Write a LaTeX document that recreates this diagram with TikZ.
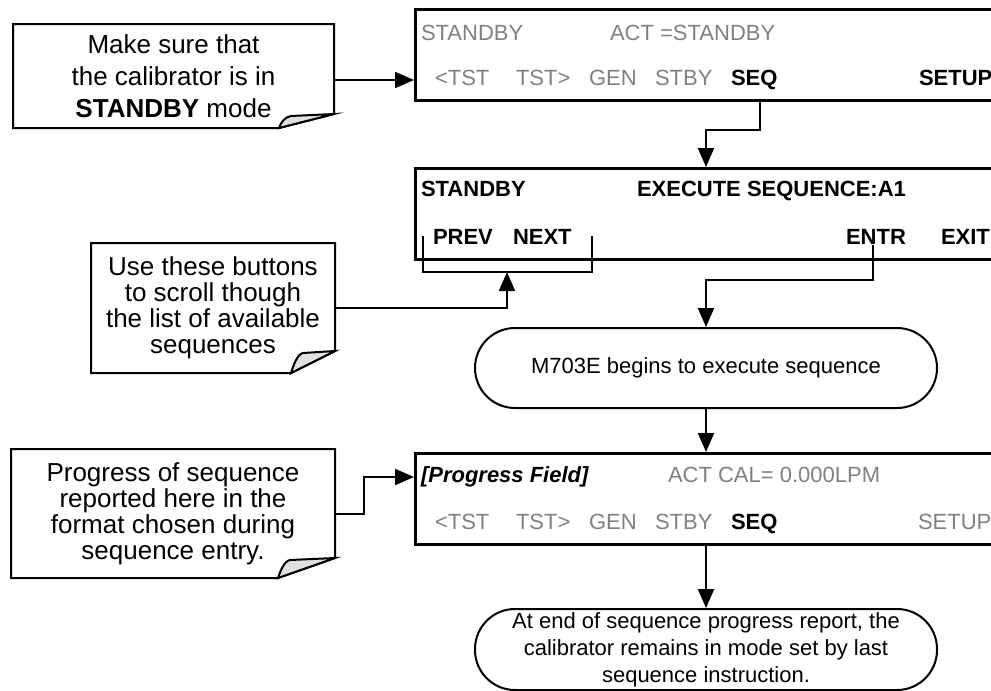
\documentclass[tikz,border=0pt]{standalone}
\usepackage{fontspec}
\setmainfont{Liberation Sans}
\usetikzlibrary{calc}
\usetikzlibrary{positioning,arrows.meta}

\definecolor{lcdgray}{RGB}{128,128,128}
\definecolor{flapgray}{RGB}{224,224,224}
\newcommand{\lcdfont}{\fontsize{11}{13.5}\selectfont}
\newcommand{\notefont}{\fontsize{13}{13}\selectfont}

% note outline with a folded corner: node, fold width, fold height
\newcommand{\dogear}[3]{%
  \draw[notebox] (#1.north west) -- (#1.north east) -- ([yshift=#3]#1.south east) -- ([xshift=-#2]#1.south east) -- (#1.south west) -- cycle;
  \filldraw[notebox,fill=flapgray] ([xshift=-#2]#1.south east) .. controls +(1pt,3pt) and +(-3pt,-0.5pt) .. ([xshift=6pt-#2,yshift=#3-1pt]#1.south east) -- ([yshift=#3]#1.south east) -- cycle;
}

\begin{document}
\begin{tikzpicture}[x=0.5pt,y=-0.5pt,>={Triangle[length=9.5pt,width=8pt]},line width=1pt,
  screen/.style={draw,rectangle,anchor=north west,inner sep=0pt,line width=1.3pt,minimum width=300pt,minimum height=45.5pt},
  key/.style={anchor=base west,inner sep=0pt,font=\lcdfont,text=lcdgray},
  hot/.style={key,text=black,font=\lcdfont\bfseries},
  note/.style={rectangle,draw=none,inner sep=0pt,align=center,font=\notefont},
  notebox/.style={line width=1pt,line join=miter},
  term/.style={draw,rectangle,rounded corners=20pt,inner sep=0pt,align=center,font=\lcdfont,minimum width=231pt,minimum height=40pt},
  ]
	\useasboundingbox (0,0) rectangle (991,691);

	\node[screen] (scrA) at (414,8) {};
	\node[screen] (scrB) at (414,167) {};
	\node[screen] (scrC) at (414,452) {};

	\node[key] (stbyA) at (420,40) {STANDBY};
	\node[key] (actA) at (609,40) {ACT =STANDBY};
	\node[key] (tstlA) at (434,85) {<TST};
	\node[key] (tstrA) at (515,85) {TST>};
	\node[key] (genA) at (588,85) {GEN};
	\node[key] (sbyA) at (654,85) {STBY};
	\node[hot] (seqA) at (730,85) {SEQ};
	\node[hot] (setA) at (918,85) {SETUP};

	\node[hot] (stbyB) at (420,196) {STANDBY};
	\node[hot] (execB) at (636,196) {EXECUTE SEQUENCE:A1};
	\node[hot] (prevB) at (432,244) {PREV};
	\node[hot] (nextB) at (512,244) {NEXT};
	\node[hot] (entrB) at (845,244) {ENTR};
	\node[hot] (exitB) at (940,244) {EXIT};

	\node[hot,font=\lcdfont\bfseries\itshape] (pfC) at (420,482) {[Progress Field]};
	\node[key] (actC) at (667,482) {ACT CAL= 0.000LPM};
	\node[key] (tstlC) at (434,529) {<TST};
	\node[key] (tstrC) at (515,529) {TST>};
	\node[key] (genC) at (588,529) {GEN};
	\node[key] (sbyC) at (654,529) {STBY};
	\node[hot] (seqC) at (730,529) {SEQ};
	\node[key] (setC) at (917,529) {SETUP};

	\node[term] (exec) at (706,368) {M703E begins to execute sequence};
	\node[term,minimum height=40.5pt] (final) at (706,649.5) {At end of sequence progress report, the\\calibrator remains in mode set by last\\sequence instruction.};

	\node[note,minimum width=159.5pt,minimum height=51pt,font=\fontsize{13}{16}\selectfont] (mk) at (173.5,76) {Make sure that\\the calibrator is in\\\textbf{STANDBY} mode};
	\dogear{mk}{27.5pt}{7pt}
	\node[note,minimum width=121pt,minimum height=64pt] (use) at (213,308) {Use these buttons\\to scroll though\\the list of available\\sequences};
	\dogear{use}{22pt}{11pt}
	\node[note,minimum width=161pt,minimum height=63.5pt] (prog) at (173,513.5) {Progress of sequence\\reported here in the\\format chosen during\\sequence entry.};
	\dogear{prog}{28.5pt}{10pt}

	\coordinate (seqTurn) at (760,130);
	\coordinate (entrTurn) at (873,280);
	\coordinate (brkL) at (423,236);
	\coordinate (brkR) at (592,236);
	\coordinate (brkM) at (507,272);
	\coordinate (progIn) at (414,477);

	\draw (brkL) |- (brkR |- brkM) -- (brkR);

	\draw[->] ([yshift=-2pt]mk.east) -- ([yshift=-2pt]mk.east -| scrA.west);
	\draw[->] (seqTurn |- scrA.south) -- (seqTurn) -| (exec.north |- scrB.north);
	\draw[->] (entrTurn |- entrB.south) -- (entrTurn) -| (exec.north);
	\draw[->] (use.east) -| (brkM);
	\draw[->] (exec.south) -- (exec.south |- scrC.north);
	\draw[->] (prog.east) -- ++(14.5pt,0) |- (progIn);
	\draw[->] (exec.south |- scrC.south) -- (final.north);

\end{tikzpicture}
\end{document}
